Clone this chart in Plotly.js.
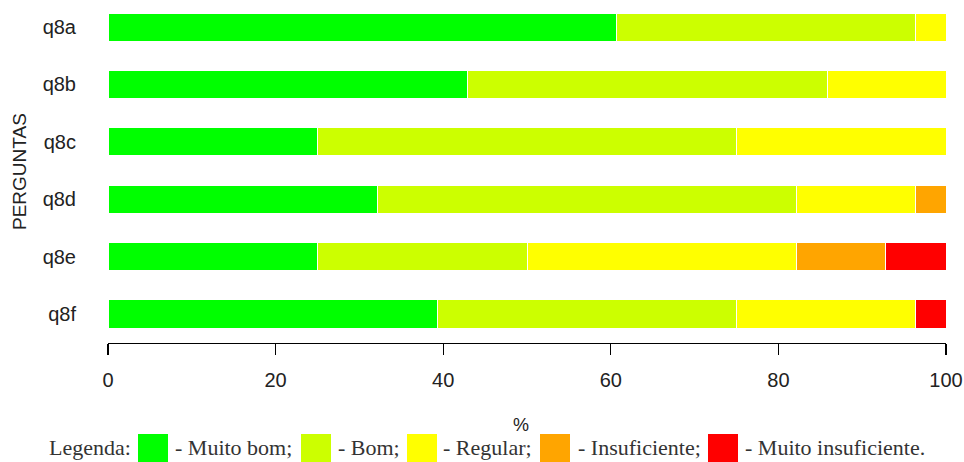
<!DOCTYPE html>
<html>
<head>
<meta charset="utf-8">
<script src="https://cdn.plot.ly/plotly-3.0.1.min.js"></script>
<style>html,body{margin:0;padding:0;background:#fff;}#chart{width:964px;height:462px;}</style>
</head>
<body>
<div id="chart"></div>
<script>
const questions = ['q8a', 'q8b', 'q8c', 'q8d', 'q8e', 'q8f'];
const seriesNames = ['Muito bom', 'Bom', 'Regular', 'Insuficiente', 'Muito insuficiente'];
const muitoBom = [60.7, 42.9, 25.0, 32.1, 25.0, 39.3];
const bom = [35.7, 42.9, 50.0, 50.0, 25.0, 35.7];
const regular = [3.6, 14.2, 25.0, 14.3, 32.1, 21.4];
const insuficiente = [0, 0, 0, 3.6, 10.7, 0];
const muitoInsuficiente = [0, 0, 0, 0, 7.2, 3.6];
const xTicks = [0, 20, 40, 60, 80, 100];
const colors = ['#00FF00', '#CCFF00', '#FFFF00', '#FFA500', '#FF0000'];
const legendLabels = ['- Muito bom;', '- Bom;', '- Regular;', '- Insuficiente;', '- Muito insuficiente.'];

const allSeries = [muitoBom, bom, regular, insuficiente, muitoInsuficiente];
const traces = allSeries.map((vals, i) => ({
  type: 'bar',
  orientation: 'h',
  name: seriesNames[i],
  y: questions,
  x: vals,
  width: 0.49,
  marker: {color: colors[i], line: {color: '#ffffff', width: 1}},
  hoverinfo: 'x+y+name'
}));

// pixel helpers for layout
const L = 108, R = 946, T = 5, B = 343;
const px = v => (v - L) / (R - L);
const py = v => (B - v) / (B - T);

const serif = 'Liberation Serif, Times New Roman, serif';
const sans = 'Liberation Sans, Arial, sans-serif';

const shapes = [];
const annotations = [];
const boxX = [138, 301, 407, 540, 708];
const textX = [173, 336, 441, 576, 743];
colors.forEach((c, i) => {
  shapes.push({type: 'rect', xref: 'paper', yref: 'paper',
    x0: px(boxX[i]), x1: px(boxX[i] + 30), y0: py(462), y1: py(434),
    fillcolor: c, line: {width: 0}});
  annotations.push({xref: 'paper', yref: 'paper', x: px(textX[i]), y: py(447),
    xanchor: 'left', yanchor: 'middle', showarrow: false, text: legendLabels[i],
    font: {family: serif, size: 22, color: '#333'}});
});
annotations.push({xref: 'paper', yref: 'paper', x: px(47), y: py(447),
  xanchor: 'left', yanchor: 'middle', showarrow: false, text: 'Legenda:',
  font: {family: serif, size: 22, color: '#333'}});
annotations.push({xref: 'paper', yref: 'paper', x: px(521), y: py(425),
  xanchor: 'center', yanchor: 'middle', showarrow: false, text: '%',
  font: {family: sans, size: 18, color: '#222'}});
annotations.push({xref: 'paper', yref: 'paper', x: px(19), y: py(172),
  xanchor: 'center', yanchor: 'middle', showarrow: false, text: 'PERGUNTAS', textangle: -90,
  font: {family: sans, size: 19, color: '#222'}});

const layout = {
  width: 964, height: 462,
  margin: {l: L, r: 964 - R, t: T, b: 462 - B, pad: 0},
  paper_bgcolor: '#ffffff', plot_bgcolor: '#ffffff',
  barmode: 'stack',
  showlegend: false,
  font: {family: sans, size: 20, color: '#222'},
  xaxis: {
    range: [0, 100], tickvals: xTicks, ticktext: xTicks.map(String),
    showgrid: false, zeroline: false, showline: true, linecolor: '#000', linewidth: 1.3,
    ticks: 'outside', ticklen: 11, tickwidth: 1.3, tickcolor: '#000',
    ticklabelstandoff: 8,
    tickfont: {family: sans, size: 20, color: '#222'}
  },
  yaxis: {
    type: 'category', categoryorder: 'array', categoryarray: questions,
    range: [5.505, -0.385],
    showgrid: false, zeroline: false, showline: false, ticks: '',
    ticklabelstandoff: 31,
    tickfont: {family: sans, size: 20, color: '#222'}
  },
  shapes: shapes,
  annotations: annotations
};

Plotly.newPlot('chart', traces, layout, {displayModeBar: false, staticPlot: true});
</script>
</body>
</html>
